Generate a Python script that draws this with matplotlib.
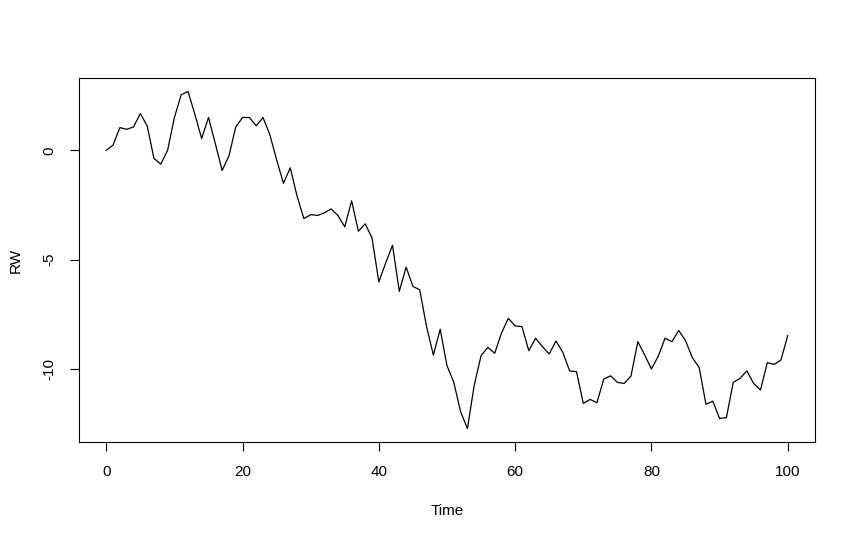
import numpy as np
import matplotlib
matplotlib.use('Agg')
import matplotlib.pyplot as plt

plt.rcParams['font.family'] = ['Liberation Sans', 'DejaVu Sans']
plt.rcParams['axes.unicode_minus'] = False

# random walk values, t = 0..100
time = np.arange(101)
rw = [0.0, 0.24, 1.04, 0.96, 1.07, 1.68, 1.12, -0.37, -0.63, 0.0,
      1.50, 2.54, 2.69, 1.65, 0.54, 1.50, 0.31, -0.92, -0.26, 1.07,
      1.50, 1.50, 1.12, 1.50, 0.72, -0.43, -1.51, -0.80, -2.10, -3.12,
      -2.94, -2.98, -2.86, -2.68, -2.98, -3.50, -2.31, -3.70, -3.36, -4.01,
      -6.02, -5.15, -4.34, -6.45, -5.34, -6.22, -6.38, -8.06, -9.36, -8.18,
      -9.85, -10.61, -11.96, -12.72, -10.73, -9.39, -9.01, -9.28, -8.35, -7.68,
      -8.03, -8.06, -9.16, -8.59, -8.98, -9.31, -8.72, -9.24, -10.09, -10.12,
      -11.57, -11.39, -11.54, -10.46, -10.31, -10.61, -10.66, -10.32, -8.75, -9.35,
      -10.0, -9.41, -8.59, -8.75, -8.24, -8.70, -9.48, -9.93, -11.61, -11.47,
      -12.26, -12.22, -10.61, -10.43, -10.08, -10.66, -10.96, -9.71, -9.79, -9.59,
      -8.47]

xticks = [0, 20, 40, 60, 80, 100]
yticks = [0, -5, -10]

fig = plt.figure(figsize=(8.55, 5.4), dpi=100)
ax = fig.add_axes([79/855, 1-442/540, (815-79)/855, (442-78)/540])

ax.plot(time, rw, color='black', linewidth=0.9)

# R style padding of 4%
lo, hi = min(rw), max(rw)
pad = 0.04 * (hi - lo)
ax.set_ylim(lo - pad, hi + pad)
ax.set_xlim(-4, 104)

ax.set_xticks(xticks)
ax.set_yticks(yticks)
ax.set_yticklabels([str(v) for v in yticks], rotation=90, va='center')
ax.tick_params(direction='out', length=6.5, width=0.8, pad=10, labelsize=11)

for s in ax.spines.values():
    s.set_linewidth(0.8)

ax.set_xlabel('Time', fontsize=11, labelpad=18)
ax.set_ylabel('RW', fontsize=11, labelpad=14)

fig.savefig('out.png', dpi=100)
